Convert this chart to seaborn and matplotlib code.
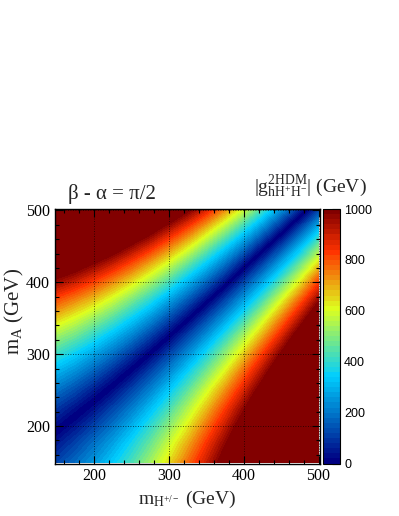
import numpy as np
import matplotlib
matplotlib.use("Agg")
import matplotlib.pyplot as plt
import seaborn as sns
from matplotlib.colors import LinearSegmentedColormap, ListedColormap, BoundaryNorm
from matplotlib.cm import ScalarMappable
from matplotlib.ticker import MultipleLocator

# charged Higgs mass (x) and pseudoscalar mass (y) nodes, GeV
m_hpm = [150, 175, 200, 225, 250, 275, 300, 325, 350, 375, 400, 425, 450, 475, 500]
m_a = [150, 175, 200, 225, 250, 275, 300, 325, 350, 375, 400, 425, 450, 475, 500]

# coupling g_hH+H- (GeV), rows = m_A, cols = m_H+/-
# (sign kept so the zero valley sits between nodes; the map shows |g|)
g_hhh = [
    [115, 180, 250, 335, 425, 530, 640, 765, 895, 1040, 1190, 1200, 1200, 1200, 1200],
    [50, 115, 190, 270, 365, 465, 580, 700, 835, 975, 1125, 1200, 1200, 1200, 1200],
    [-25, 40, 115, 195, 290, 395, 505, 625, 760, 900, 1055, 1200, 1200, 1200, 1200],
    [-105, -40, 30, 115, 205, 310, 420, 545, 675, 820, 970, 1130, 1200, 1200, 1200],
    [-200, -135, -60, 20, 115, 215, 330, 450, 585, 725, 875, 1040, 1200, 1200, 1200],
    [-300, -240, -165, -80, 10, 115, 225, 350, 480, 620, 775, 935, 1105, 1200, 1200],
    [-415, -350, -275, -195, -100, 0, 115, 235, 370, 510, 660, 825, 995, 1175, 1200],
    [-535, -475, -400, -315, -225, -120, -10, 115, 245, 390, 540, 700, 870, 1055, 1200],
    [-670, -605, -530, -450, -355, -255, -140, -20, 115, 255, 405, 570, 740, 920, 1110],
    [-810, -745, -675, -590, -495, -395, -280, -160, -30, 115, 265, 425, 600, 780, 970],
    [-960, -900, -825, -740, -650, -545, -435, -310, -180, -40, 115, 275, 445, 625, 820],
    [-1125, -1060, -985, -905, -810, -705, -595, -470, -340, -200, -45, 115, 285, 465, 655],
    [-1200, -1200, -1155, -1075, -980, -880, -765, -645, -510, -370, -220, -55, 115, 295, 485],
    [-1200, -1200, -1200, -1200, -1160, -1060, -945, -825, -690, -550, -400, -240, -65, 115, 305],
    [-1200, -1200, -1200, -1200, -1200, -1200, -1135, -1015, -885, -740, -590, -430, -255, -75, 115],
]

cbar_ticks = [0, 200, 400, 600, 800, 1000]

# ROOT-style rainbow gradient
stops = [0.00, 0.34, 0.61, 0.84, 1.00]
red = [0.00, 0.00, 0.87, 1.00, 0.51]
green = [0.00, 0.81, 1.00, 0.20, 0.00]
blue = [0.51, 1.00, 0.12, 0.00, 0.00]

sns.set_theme(style="ticks")
plt.rcParams['font.family'] = ['Liberation Serif', 'DejaVu Serif']
plt.rcParams['mathtext.fontset'] = 'custom'
plt.rcParams['mathtext.rm'] = 'Liberation Serif'
plt.rcParams['mathtext.it'] = 'Liberation Serif:italic'

grad = LinearSegmentedColormap.from_list(
    "root", [(s, (r, g, b)) for s, r, g, b in zip(stops, red, green, blue)])
n_cont = 50
palette = [grad(i / (n_cont - 1)) for i in range(n_cont)]

levels = np.concatenate([[-1300], np.arange(-1000, 1001, 20), [1300]])
mids = (levels[:-1] + levels[1:]) / 2
fill_colors = [palette[min(int(abs(m) // 20), n_cont - 1)] for m in mids]

fig = plt.figure(figsize=(3.99, 5.16), dpi=100)
ax = fig.add_axes([55 / 399, 52.5 / 516, 265 / 399, 254.5 / 516])
ax.contourf(m_hpm, m_a, np.array(g_hhh), levels=levels, colors=fill_colors, zorder=1)

ax.set_xlim(148, 502)
ax.set_ylim(148, 502)
ax.set_xticks([200, 300, 400, 500])
ax.set_yticks([200, 300, 400, 500])
ax.xaxis.set_minor_locator(MultipleLocator(20))
ax.yaxis.set_minor_locator(MultipleLocator(20))
ax.tick_params(which='both', direction='in', top=True, right=True, colors='black',
               labelsize=11.5, width=0.8)
ax.tick_params(which='major', length=6)
ax.tick_params(which='minor', length=3)
ax.set_axisbelow(False)
ax.grid(True, which='major', color='black', linestyle=(0, (1, 2)), linewidth=0.6,
        alpha=0.8, zorder=3)
for sp in ax.spines.values():
    sp.set_color('black')
    sp.set_linewidth(1.0)
    sp.set_zorder(5)

# colour scale
cax = fig.add_axes([323 / 399, 52.5 / 516, 17 / 399, 254.5 / 516])
sm = ScalarMappable(norm=BoundaryNorm(np.arange(0, 1001, 20), n_cont),
                    cmap=ListedColormap(palette))
cb = fig.colorbar(sm, cax=cax, ticks=cbar_ticks)
cb.ax.minorticks_off()
cb.outline.set_linewidth(0.8)
cb.outline.set_edgecolor('black')
cb.ax.tick_params(which='both', direction='in', length=6, width=0.8, labelsize=9, pad=3,
                  colors='black')
cb.ax.tick_params(which='minor', length=0)
for lab in cb.ax.get_yticklabels():
    lab.set_family('Liberation Sans')

fig.text(68 / 399, 1 - 199 / 516, "β - α = π/2", fontsize=15, ha='left', va='baseline')
fig.text(367 / 399, 1 - 193 / 516,
         r"$|\mathrm{g}^{\mathrm{2HDM}}_{\mathrm{hH^{+}H^{-}}}|$ (GeV)",
         fontsize=14, ha='right', va='baseline')
fig.text(187 / 399, 1 - 504 / 516, r"m$_{\mathrm{H}^{+/-}}$ (GeV)",
         fontsize=14, ha='center', va='baseline')
fig.text(14 / 399, 1 - 311 / 516, r"m$_{\mathrm{A}}$ (GeV)",
         fontsize=15, ha='center', va='center', rotation=90)

fig.savefig("out.png", dpi=100)
